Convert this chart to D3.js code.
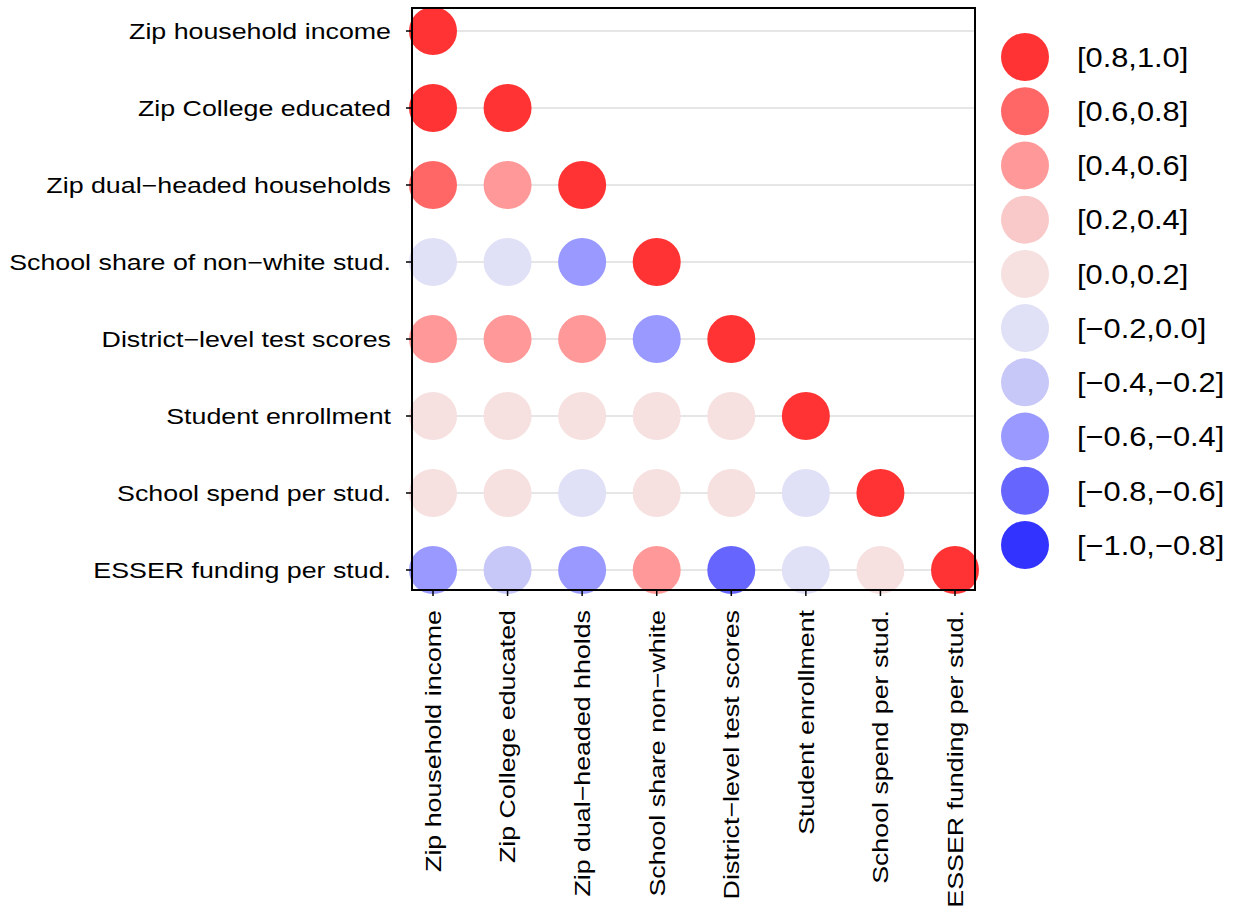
<!DOCTYPE html>
<html><head><meta charset="utf-8">
<script src="https://cdn.jsdelivr.net/npm/d3@7"></script>
<style>body{margin:0;background:#fff}text{font-family:"Liberation Sans",Arial,sans-serif;fill:#000}</style>
</head><body><div id="chart"></div>
<script>
const rowLabels = ["Zip household income","Zip College educated","Zip dual\u2212headed households","School share of non\u2212white stud.","District\u2212level test scores","Student enrollment","School spend per stud.","ESSER funding per stud."];
const colLabels = ["Zip household income","Zip College educated","Zip dual\u2212headed hholds","School share non\u2212white","District\u2212level test scores","Student enrollment","School spend per stud.","ESSER funding per stud."];
const corr = [
  [1],
  [0.9,1],
  [0.7,0.5,1],
  [-0.1,-0.1,-0.5,1],
  [0.5,0.5,0.5,-0.5,1],
  [0.1,0.1,0.1,0.1,0.1,1],
  [0.1,0.1,-0.1,0.1,0.1,-0.1,1],
  [-0.5,-0.3,-0.5,0.5,-0.7,-0.1,0.1,1]
];
const binLabels = ["[0.8,1.0]","[0.6,0.8]","[0.4,0.6]","[0.2,0.4]","[0.0,0.2]","[\u22120.2,0.0]","[\u22120.4,\u22120.2]","[\u22120.6,\u22120.4]","[\u22120.8,\u22120.6]","[\u22121.0,\u22120.8]"];
const binColors = ["#ff3333","#ff6666","#ff9999","#f9c8c8","#f6e0e0","#e0e0f6","#c8c8f8","#9999ff","#6666ff","#3333ff"];

const W=1240,H=911, L=412, R=975, T=8, B=590;
const svg = d3.select("#chart").append("svg").attr("width",W).attr("height",H);
const x = d3.scalePoint().domain(d3.range(8)).range([433,955]);
const y = d3.scalePoint().domain(d3.range(8)).range([31,570]);
const bin = v => Math.min(9, Math.max(0, Math.floor((1 - v) / 0.2)));

svg.append("g").selectAll("line").data(d3.range(8)).enter().append("line")
  .attr("x1",L).attr("x2",R).attr("y1",d=>y(d)).attr("y2",d=>y(d))
  .attr("stroke","#e6e6e6").attr("stroke-width",2);

const cells = [];
corr.forEach((row,i)=>row.forEach((v,j)=>cells.push({i,j,v})));
svg.append("g").selectAll("circle").data(cells).enter().append("circle")
  .attr("cx",d=>x(d.j)).attr("cy",d=>y(d.i)).attr("r",24)
  .attr("fill",d=>binColors[bin(d.v)]);

svg.append("rect").attr("x",L).attr("y",T).attr("width",R-L).attr("height",B-T)
  .attr("fill","none").attr("stroke","#000").attr("stroke-width",2);

const ya = svg.append("g");
ya.selectAll("line").data(d3.range(8)).enter().append("line")
  .attr("x1",L-6).attr("x2",L).attr("y1",d=>y(d)).attr("y2",d=>y(d)).attr("stroke","#000").attr("stroke-width",1.5);
ya.selectAll("text").data(rowLabels).enter().append("text")
  .attr("x",L-21).attr("y",(d,i)=>y(i)).attr("dy","0.35em").attr("text-anchor","end")
  .attr("font-size",22.5).attr("textLength",function(){return null;}).text(d=>d)
  .each(function(){ const w=this.getComputedTextLength(); d3.select(this).attr("textLength",w*1.19).attr("lengthAdjust","spacingAndGlyphs"); });

const xa = svg.append("g");
xa.selectAll("line").data(d3.range(8)).enter().append("line")
  .attr("x1",d=>x(d)).attr("x2",d=>x(d)).attr("y1",B).attr("y2",B+6).attr("stroke","#000").attr("stroke-width",1.5);
xa.selectAll("text").data(colLabels).enter().append("text")
  .attr("transform",(d,i)=>`translate(${x(i)},${B+20}) rotate(-90)`)
  .attr("dy","0.35em").attr("text-anchor","end").attr("font-size",22.5).text(d=>d)
  .each(function(){ const w=this.getComputedTextLength(); d3.select(this).attr("textLength",w*1.19).attr("lengthAdjust","spacingAndGlyphs"); });

const lg = svg.append("g");
const ly = d3.scalePoint().domain(d3.range(10)).range([57,545]);
lg.selectAll("circle").data(binColors).enter().append("circle")
  .attr("cx",1025).attr("cy",(d,i)=>ly(i)).attr("r",24).attr("fill",d=>d);
lg.selectAll("text").data(binLabels).enter().append("text")
  .attr("x",1077).attr("y",(d,i)=>ly(i)).attr("dy","0.35em").attr("font-size",28).text(d=>d)
  .each(function(){ const w=this.getComputedTextLength(); d3.select(this).attr("textLength",w*1.1).attr("lengthAdjust","spacingAndGlyphs"); });
</script></body></html>
